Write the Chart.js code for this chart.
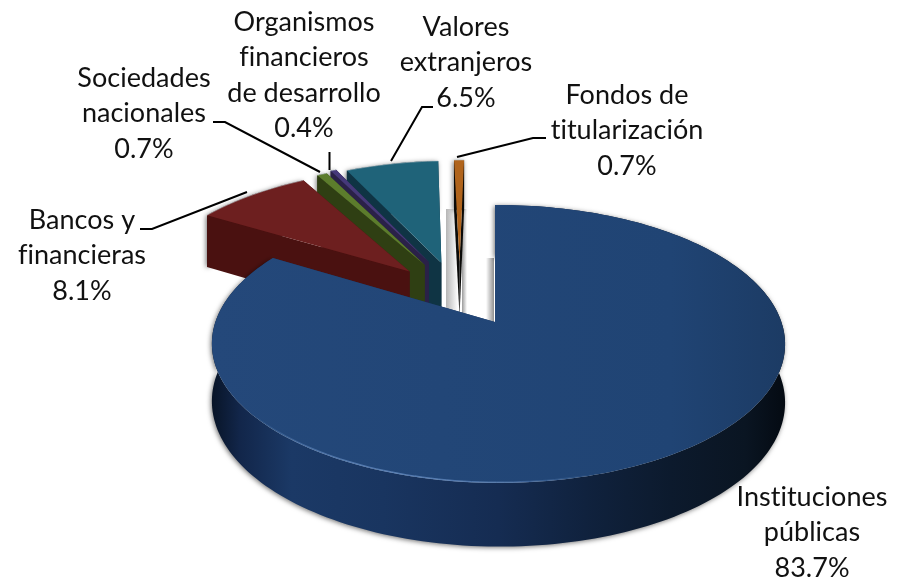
<!DOCTYPE html>
<html><head><meta charset="utf-8">
<style>html,body{margin:0;padding:0;background:#fff}canvas{display:block}</style>
<script src="https://cdn.jsdelivr.net/npm/chart.js@4"></script>
</head><body>
<canvas id="c" width="902" height="579"></canvas>
<script>
const categories = ["Instituciones públicas","Bancos y financieras","Sociedades nacionales","Organismos financieros de desarrollo","Valores extranjeros","Fondos de titularización"];
const labelLines = [["Instituciones","públicas"],["Bancos y","financieras"],["Sociedades","nacionales"],["Organismos","financieros","de desarrollo"],["Valores","extranjeros"],["Fondos de","titularización"]];
const values = [83.7,8.1,0.7,0.4,6.5,0.7];
const topColors = ["#214676","#6d1f1f","#5c7c2c","#46397a","#1f6379","#b0641c"];
const wallColors = ["#17305a","#4a1110","#2f3f13","#2a2148","#0f3444","#0a0a08"];
// exploded position of each slice on the pie's disc (fractions of the radius)
const explodeU = [0,-0.322,-0.267,-0.252,-0.204,-0.135];
const explodeV = [0,-0.398,-0.452,-0.478,-0.470,-0.478];
const labelCenterX = [812,82,144,304,466,627];
const labelFirstY = [497,220,78,22,27,95];
const leaders = [null,[[140,229],[152,229],[247,192]],[[213,122],[225,122],[320,172]],[[329.5,152],[329.5,170]],[[433,107],[422,107],[391,161]],[[546,138],[533,138],[457,157]]];

const TILT_X=1.101, TILT_Y=0.527, P=0.158, Q=0.012, DEPTH=57, DEPTH_POW=0.65;
const bigWallStops=[[0,"#081426"],[0.05,"#12264a"],[0.14,"#1b3966"],[0.3,"#193560"],[0.5,"#152c52"],[0.65,"#10223e"],[0.8,"#0c1a2d"],[0.93,"#0a1522"],[1,"#040a12"]];

Chart.PieController.prototype.draw = function(){
  const ctx=this.chart.ctx, els=this._cachedMeta.data;
  const proj=(el,i,a,r,z)=>{
    const u=explodeU[i]+r*Math.cos(a), v=explodeV[i]+r*Math.sin(a);
    const w=1-P*v-Q*u, R=el.outerRadius;
    return [el.x+R*TILT_X*u/w, el.y+R*TILT_Y*v/w+DEPTH*z/Math.pow(w,DEPTH_POW)];
  };
  // soft cast shadows seen in the gaps between slices
  const strip=(x0,x1,y0,y1,c0,c1)=>{const g=ctx.createLinearGradient(x0,0,x1,0);g.addColorStop(0,c0);g.addColorStop(1,c1);ctx.fillStyle=g;ctx.fillRect(x0,y0,x1-x0,y1-y0);};
  ctx.save();
  strip(446,458,209,312,"#b5b5b5","#ffffff");
  strip(462,467,209,314,"#9a9a9a","#ffffff");
  strip(486,494,258,323,"#ffffff","#8f8f8f");
  ctx.restore();
  for(let i=els.length-1;i>=0;i--){
    const el=els[i], a0=el.startAngle, a1=el.endAngle, n=Math.max(4,Math.ceil((a1-a0)*40));
    const arc=[];for(let k=0;k<=n;k++)arc.push(a0+(a1-a0)*k/n);
    ctx.save();
    ctx.lineJoin="round";
    ctx.fillStyle=wallColors[i];
    // rim wall
    ctx.save();
    ctx.shadowColor="rgba(0,0,0,0.55)";ctx.shadowBlur=5;ctx.shadowOffsetX=-1;ctx.shadowOffsetY=1;
    if(i===0){
      const g=ctx.createLinearGradient(el.x-284,0,el.x+291,0);
      bigWallStops.forEach(s=>g.addColorStop(s[0],s[1]));ctx.fillStyle=g;
    }
    ctx.beginPath();
    arc.forEach((a,k)=>{const p=proj(el,i,a,1,0);k?ctx.lineTo(...p):ctx.moveTo(...p);});
    [...arc].reverse().forEach(a=>ctx.lineTo(...proj(el,i,a,1,1)));
    ctx.closePath();ctx.fill();
    ctx.restore();
    // cut walls
    for(const a of [a1,a0]){
      const c0=proj(el,i,a,0,0),c1=proj(el,i,a,1,0),c2=proj(el,i,a,1,1),c3=proj(el,i,a,0,1);
      ctx.beginPath();ctx.moveTo(...c0);ctx.lineTo(...c1);ctx.lineTo(...c2);ctx.lineTo(...c3);ctx.closePath();ctx.fill();
    }
    // top face
    if(i===0){
      const g=ctx.createLinearGradient(el.x-284,0,el.x+291,0);
      g.addColorStop(0,"#24487a");g.addColorStop(0.8,"#204474");g.addColorStop(1,"#1c3b64");ctx.fillStyle=g;
    } else ctx.fillStyle=topColors[i];
    ctx.beginPath();ctx.moveTo(...proj(el,i,a0,0,0));
    arc.forEach(a=>ctx.lineTo(...proj(el,i,a,1,0)));
    ctx.closePath();ctx.fill();
    // thin light edge along the top rim
    if(i===0){
      for(let k=0;k<n;k++){
        const d=(arc[k]-1.85)/0.6, al=Math.max(0,1-d*d)*0.6;
        if(al<=0)continue;
        ctx.strokeStyle="rgba(120,160,215,"+al.toFixed(3)+")";ctx.lineWidth=1.5;
        ctx.beginPath();ctx.moveTo(...proj(el,i,arc[k],0.997,0));ctx.lineTo(...proj(el,i,arc[k+1],0.997,0));ctx.stroke();
      }
    } else {
      ctx.strokeStyle="rgba(190,200,205,0.55)";ctx.lineWidth=1;
      ctx.beginPath();arc.forEach((a,k)=>{const p=proj(el,i,a,1,0);k?ctx.lineTo(...p):ctx.moveTo(...p);});ctx.stroke();
    }
    ctx.restore();
  }
};

const labelPlugin={id:"labels",afterDraw(chart){
  const ctx=chart.ctx;ctx.save();
  ctx.strokeStyle="#000";ctx.lineWidth=2;
  leaders.forEach(l=>{if(!l)return;ctx.beginPath();l.forEach((p,k)=>k?ctx.lineTo(p[0],p[1]):ctx.moveTo(p[0],p[1]));ctx.stroke();});
  ctx.fillStyle="#111";ctx.font='27px Lato';ctx.letterSpacing="0.02px";ctx.textAlign="center";ctx.textBaseline="middle";
  values.forEach((v,i)=>{
    [...labelLines[i],v.toFixed(1)+"%"].forEach((t,k)=>ctx.fillText(t,labelCenterX[i],labelFirstY[i]+k*35.5));
  });
  ctx.restore();
}};

new Chart(document.getElementById("c"),{
  type:"pie",
  data:{labels:categories,datasets:[{data:values,backgroundColor:topColors,borderWidth:0}]},
  options:{responsive:false,animation:false,
    layout:{padding:{left:88,top:65,right:0,bottom:0}},
    plugins:{legend:{display:false},tooltip:{enabled:false}}},
  plugins:[labelPlugin]
});
</script>
</body></html>
